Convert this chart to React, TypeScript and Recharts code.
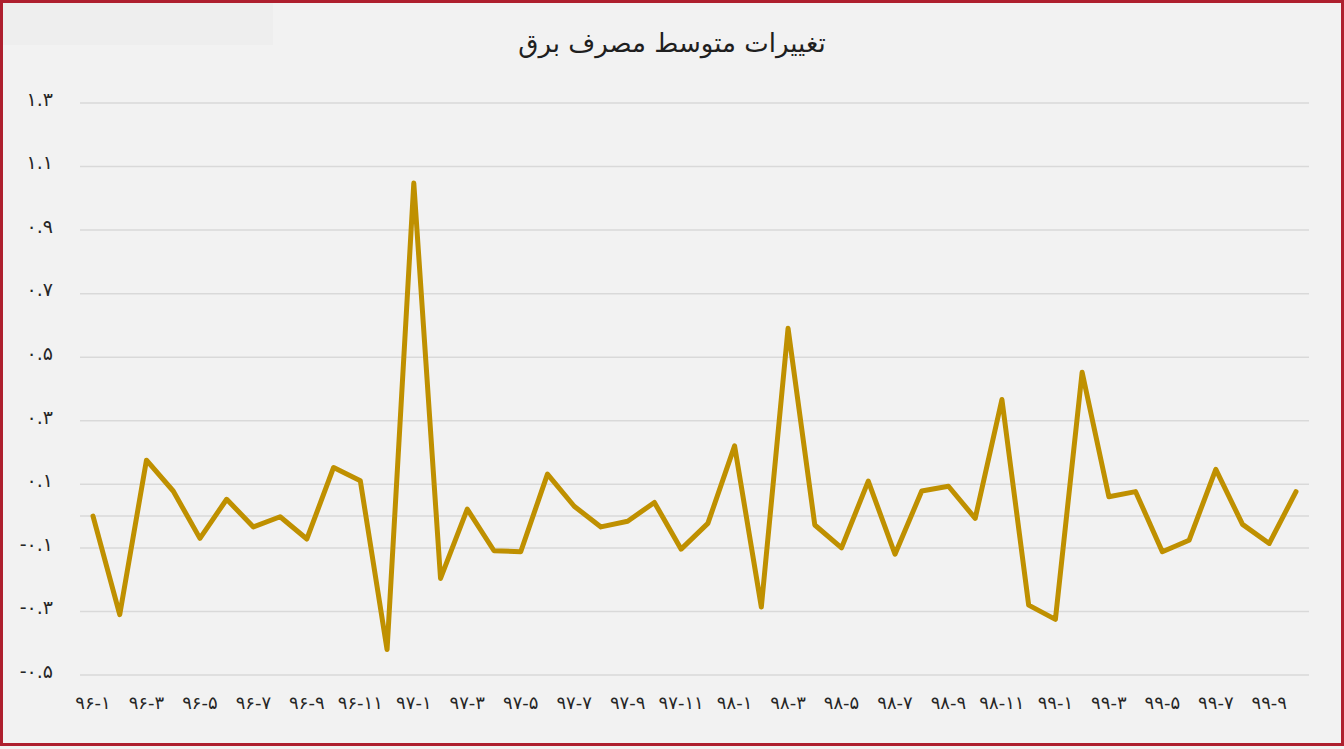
import { CartesianGrid, Line, LineChart, ReferenceLine, XAxis, YAxis } from "recharts";

const categories = [
  "۹۶-۱", "۹۶-۲", "۹۶-۳", "۹۶-۴", "۹۶-۵", "۹۶-۶", "۹۶-۷", "۹۶-۸", "۹۶-۹", "۹۶-۱۰", "۹۶-۱۱", "۹۶-۱۲",
  "۹۷-۱", "۹۷-۲", "۹۷-۳", "۹۷-۴", "۹۷-۵", "۹۷-۶", "۹۷-۷", "۹۷-۸", "۹۷-۹", "۹۷-۱۰", "۹۷-۱۱", "۹۷-۱۲",
  "۹۸-۱", "۹۸-۲", "۹۸-۳", "۹۸-۴", "۹۸-۵", "۹۸-۶", "۹۸-۷", "۹۸-۸", "۹۸-۹", "۹۸-۱۰", "۹۸-۱۱", "۹۸-۱۲",
  "۹۹-۱", "۹۹-۲", "۹۹-۳", "۹۹-۴", "۹۹-۵", "۹۹-۶", "۹۹-۷", "۹۹-۸", "۹۹-۹", "۹۹-۱۰",
];

const changes = [
  0.0, -0.31, 0.176, 0.079, -0.07, 0.053, -0.034, -0.002, -0.072, 0.153, 0.111, -0.42,
  1.048, -0.196, 0.022, -0.109, -0.112, 0.132, 0.031, -0.034, -0.016, 0.043, -0.104, -0.023,
  0.221, -0.286, 0.591, -0.028, -0.1, 0.11, -0.12, 0.079, 0.094, -0.007, 0.367, -0.28,
  -0.325, 0.453, 0.061, 0.077, -0.112, -0.076, 0.147, -0.026, -0.086, 0.077,
];

const yTicks = [-0.5, -0.3, -0.1, 0.1, 0.3, 0.5, 0.7, 0.9, 1.1, 1.3];

const title = "تغییرات متوسط مصرف برق";

const faDigits = "۰۱۲۳۴۵۶۷۸۹";
const toFa = (s: string) => s.replace(/[0-9]/g, (d) => faDigits[Number(d)]);

const rows = categories.map((cat, i) => ({ cat, value: changes[i] }));

const font = "'DejaVu Sans', sans-serif";

export default function App() {
  return (
    <div style={{ position: "relative", width: 1344, height: 749, background: "#f2f2f2", fontFamily: font }}>
      <style>{"body{margin:0}"}</style>
      <div
        style={{
          position: "absolute",
          left: 0,
          top: 0,
          width: 1344,
          height: 746,
          boxSizing: "border-box",
          border: "3px solid #ae1f2e",
        }}
      />
      <div style={{ position: "absolute", left: 3, top: 3, width: 270, height: 42, background: "#eeeeee" }} />
      <div
        style={{
          position: "absolute",
          left: 0,
          top: 26,
          width: 1344,
          textAlign: "center",
          fontSize: 26,
          lineHeight: "34px",
          color: "#1f1f1f",
          direction: "rtl",
        }}
      >
        {title}
      </div>
      <div style={{ position: "absolute", left: 0, top: 0 }}>
        <LineChart width={1344} height={749} data={rows} margin={{ top: 103, right: 35, bottom: 44, left: 0 }}>
          <CartesianGrid vertical={false} stroke="#d9d9d9" strokeWidth={1.5} />
          <XAxis
            dataKey="cat"
            interval={1}
            axisLine={false}
            tickLine={false}
            tickSize={0}
            tickMargin={21}
            height={30}
            padding={{ left: 13, right: 13 }}
            tick={{ fill: "#262626", fontSize: 18, fontFamily: font }}
          />
          <YAxis
            domain={[-0.5, 1.3]}
            ticks={yTicks}
            width={80}
            axisLine={false}
            tickLine={false}
            tickSize={0}
            tickMargin={27}
            tickFormatter={(v: number) => toFa(v.toFixed(1))}
            tick={{ fill: "#262626", fontSize: 19, fontFamily: font, dy: -4 }}
          />
          <ReferenceLine y={0} stroke="#d9d9d9" strokeWidth={1.5} />
          <Line
            type="linear"
            dataKey="value"
            stroke="#bf9000"
            strokeWidth={5}
            strokeLinejoin="round"
            strokeLinecap="round"
            dot={false}
            isAnimationActive={false}
          />
        </LineChart>
      </div>
    </div>
  );
}
